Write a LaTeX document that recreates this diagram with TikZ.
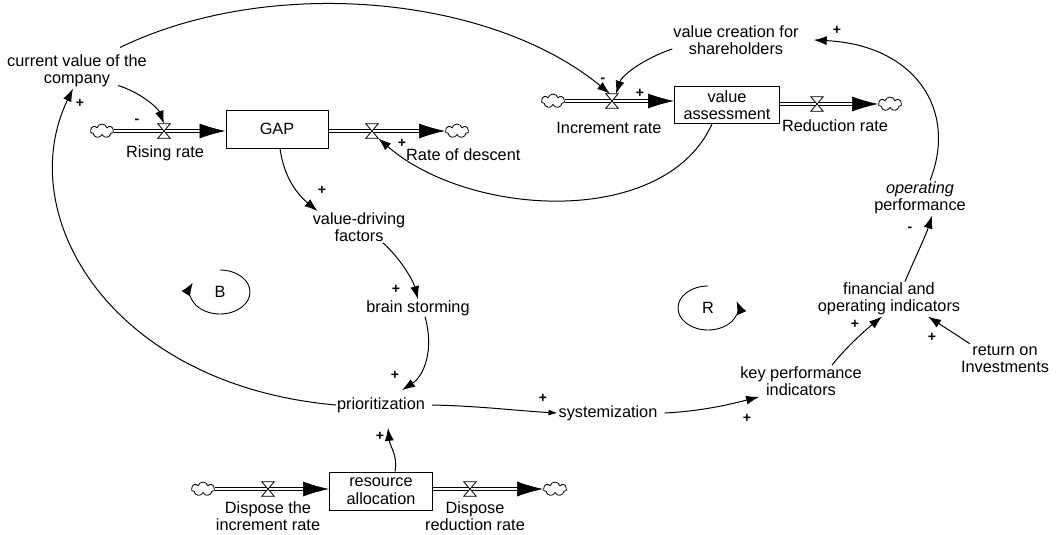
\documentclass[tikz,border=0pt]{standalone}
\usepackage{fontspec}
\setmainfont{Liberation Sans}
\usetikzlibrary{arrows.meta,shapes.symbols,calc}

\begin{document}
\begin{tikzpicture}[x=1pt,y=-1pt,
  every node/.style={font=\fontsize{16.3}{17.5}\selectfont},
  lbl/.style={align=center, inner sep=1pt},
  stock/.style={draw, line width=1pt, minimum width=102pt, minimum height=38pt,
                align=center, inner sep=1pt, fill=white},
  sink/.style={cloud, cloud puffs=7, aspect=1.7, draw, line width=0.8pt, fill=white,
               minimum width=23pt, minimum height=14pt, inner sep=0pt},
  valvebox/.style={minimum width=12pt, minimum height=14pt, inner sep=0pt},
  valveshape/.style={draw, fill=white, line width=0.8pt},
  pipe/.style={draw, line width=0.75pt, double distance=2.2pt, double=white},
  pipehead/.style={line width=0.6pt, -{Latex[length=26pt,width=15pt]}},
  link/.style={line width=1pt, -{Latex[length=13pt,width=9pt]}},
  smalllink/.style={line width=1pt, -{Latex[length=9pt,width=6pt]}},
  sgn/.style={font=\fontsize{14}{14}\selectfont\bfseries, inner sep=0pt},
  loopline/.style={line width=0.9pt, -{Latex[length=13pt,width=10pt]}},
]
\useasboundingbox (0,0) rectangle (1057,535);

% ---- auxiliaries ----
\node[lbl] (cv)  at (77,71)   {current value of the\\company};
\node[lbl] (vc)  at (736,40)  {value creation for\\shareholders};
\node[lbl] (vd)  at (359,227) {value-driving\\factors};
\node[lbl] (bs)  at (418,308) {brain storming};
\node[lbl] (pri) at (381,405) {prioritization};
\node[lbl] (sys) at (608,413) {systemization};
\node[lbl] (kpi) at (801,381) {key performance\\indicators};
\node[lbl] (fin) at (889,299) {financial and\\operating indicators};
\node[lbl] (ret) at (1005,359) {return on\\Investments};
\node[lbl] (op)  at (920,198) {\itshape operating\\performance};

% ---- loop markers ----
\node[lbl] (B) at (220,292) {B};
\node[lbl] (R) at (708,308) {R};
\draw[loopline] (B.center) ++(0,-22) arc[start angle=-90, end angle=205, x radius=30, y radius=22];
\draw[loopline] (R.center) ++(0,-22) arc[start angle=-90, end angle=-378, x radius=30, y radius=22];

% ---- stocks ----
\node[stock] (gap) at (277,129) {GAP};
\node[stock, minimum width=105pt, minimum height=37pt] (va) at (727,105) {value\\assessment};
\node[stock, minimum width=103pt] (ra) at (381,491) {resource\\allocation};

% ---- sources and sinks ----
\node[sink] (cl1) at (102,131) {};
\node[sink] (cl2) at (457,131) {};
\node[sink] (cl3) at (553,101) {};
\node[sink] (cl4) at (890,104) {};
\node[sink] (cl5) at (203,489) {};
\node[sink] (cl6) at (555,489) {};

% ---- valve positions ----
\node[valvebox] (v1) at (164,131) {};
\node[valvebox] (v2) at (372,131) {};
\node[valvebox] (v3) at (612,101) {};
\node[valvebox] (v4) at (817,104) {};
\node[valvebox] (v5) at (268,489) {};
\node[valvebox] (v6) at (470,489) {};

% ---- flow labels ----
\node[lbl] (l1) at (165,153) {Rising rate};
\node[lbl, anchor=west] (l2) at (405,155) {Rate of descent};
\node[lbl] (l3) at (609,128) {Increment rate};
\node[lbl] (l4) at (835,126) {Reduction rate};
\node[lbl] (l5) at (268,516) {Dispose the\\increment rate};
\node[lbl] (l6) at (475,516) {Dispose\\reduction rate};

% ---- pipes ----
\draw[pipe, shorten >=20pt] (cl1.east) -- (cl1.east -| gap.west);
\draw[pipehead] ($(cl1.east -| gap.west)+(-26,0)$) -- (cl1.east -| gap.west);
\draw[pipe, shorten >=20pt] (cl2.west -| gap.east) -- (cl2.west);
\draw[pipehead] ($(cl2.west)+(-26,0)$) -- (cl2.west);

\draw[pipe, shorten >=20pt] (cl3.east) -- (cl3.east -| va.west);
\draw[pipehead] ($(cl3.east -| va.west)+(-26,0)$) -- (cl3.east -| va.west);
\draw[pipe, shorten >=20pt] (cl4.west -| va.east) -- (cl4.west);
\draw[pipehead] ($(cl4.west)+(-26,0)$) -- (cl4.west);

\draw[pipe, shorten >=20pt] (cl5.east) -- (cl5.east -| ra.west);
\draw[pipehead] ($(cl5.east -| ra.west)+(-26,0)$) -- (cl5.east -| ra.west);
\draw[pipe, shorten >=20pt] (cl6.west -| ra.east) -- (cl6.west);
\draw[pipehead] ($(cl6.west)+(-26,0)$) -- (cl6.west);

% ---- valves ----
\foreach \v in {v1,v2,v3,v4,v5,v6}
  \filldraw[valveshape] (\v.north west) -- (\v.north east) -- (\v.south west) -- (\v.south east) -- cycle;

% ---- causal links ----
\draw[link] ([xshift=43pt,yshift=6pt]cv.north) .. controls (270,-25) and (490,-5) .. ([xshift=-2pt]v3.north);
\draw[link] ([xshift=-30pt,yshift=3pt]cv.south east) .. controls (140,92) and (158,108) .. (v1.north);
\draw[link] (pri.west) .. controls (110,385) and (12,215) .. ([xshift=-4pt]cv.south);
\draw[link] ([xshift=3pt]gap.south) .. controls (284,178) and (298,195) .. ([xshift=6pt]vd.north west);
\draw[link] ([xshift=24pt]vd.south) .. controls (400,258) and (413,280) .. (bs.north);
\draw[link] ([xshift=7pt]bs.south) .. controls (434,348) and (425,375) .. ([xshift=21pt,yshift=6pt]pri.north);
\draw[link] ([xshift=14pt]ra.north) .. controls (398,455) and (390,447) .. ([xshift=7pt,yshift=-14pt]pri.south);
\draw[smalllink] ([xshift=6pt]pri.east) .. controls (480,406) and (520,411) .. (sys.west);
\draw[link] ([xshift=6pt]sys.east) .. controls (705,411) and (735,403) .. ([xshift=20pt]kpi.south west);
\draw[link] ([xshift=31pt]kpi.north) .. controls (848,345) and (868,328) .. ([xshift=-7pt]fin.south);
\draw[link] ([xshift=10pt]ret.north west) -- ([xshift=39pt]fin.south);
\draw[link] ([xshift=16pt]fin.north) .. controls (915,258) and (926,235) .. ([xshift=12pt]op.south);
\draw[link] ([xshift=10pt]op.north) .. controls (958,110) and (915,45) .. ([xshift=14pt]vc.east);
\draw[link] ([yshift=-9pt]vc.west) .. controls (645,58) and (622,75) .. ([xshift=4pt]v3.north);
\draw[link] ([xshift=-15pt]va.south) .. controls (665,228) and (470,218) .. (v2.south east);

% ---- polarities ----
\node[sgn] (s1)  at (137,121) {-};
\node[sgn] (s2)  at (80,103)  {+};
\node[sgn] (s3)  at (402,143) {+};
\node[sgn] (s4)  at (322,190) {+};
\node[sgn] (s5)  at (396,289) {+};
\node[sgn] (s6)  at (395,375) {+};
\node[sgn] (s7)  at (380,436) {+};
\node[sgn] (s8)  at (543,398) {+};
\node[sgn] (s9)  at (747,418) {+};
\node[sgn] (s10) at (855,324) {+};
\node[sgn] (s11) at (932,337) {+};
\node[sgn] (s12) at (910,229) {-};
\node[sgn] (s13) at (837,30)  {+};
\node[sgn] (s14) at (603,80)  {-};
\node[sgn] (s15) at (640,93)  {+};
\end{tikzpicture}
\end{document}
